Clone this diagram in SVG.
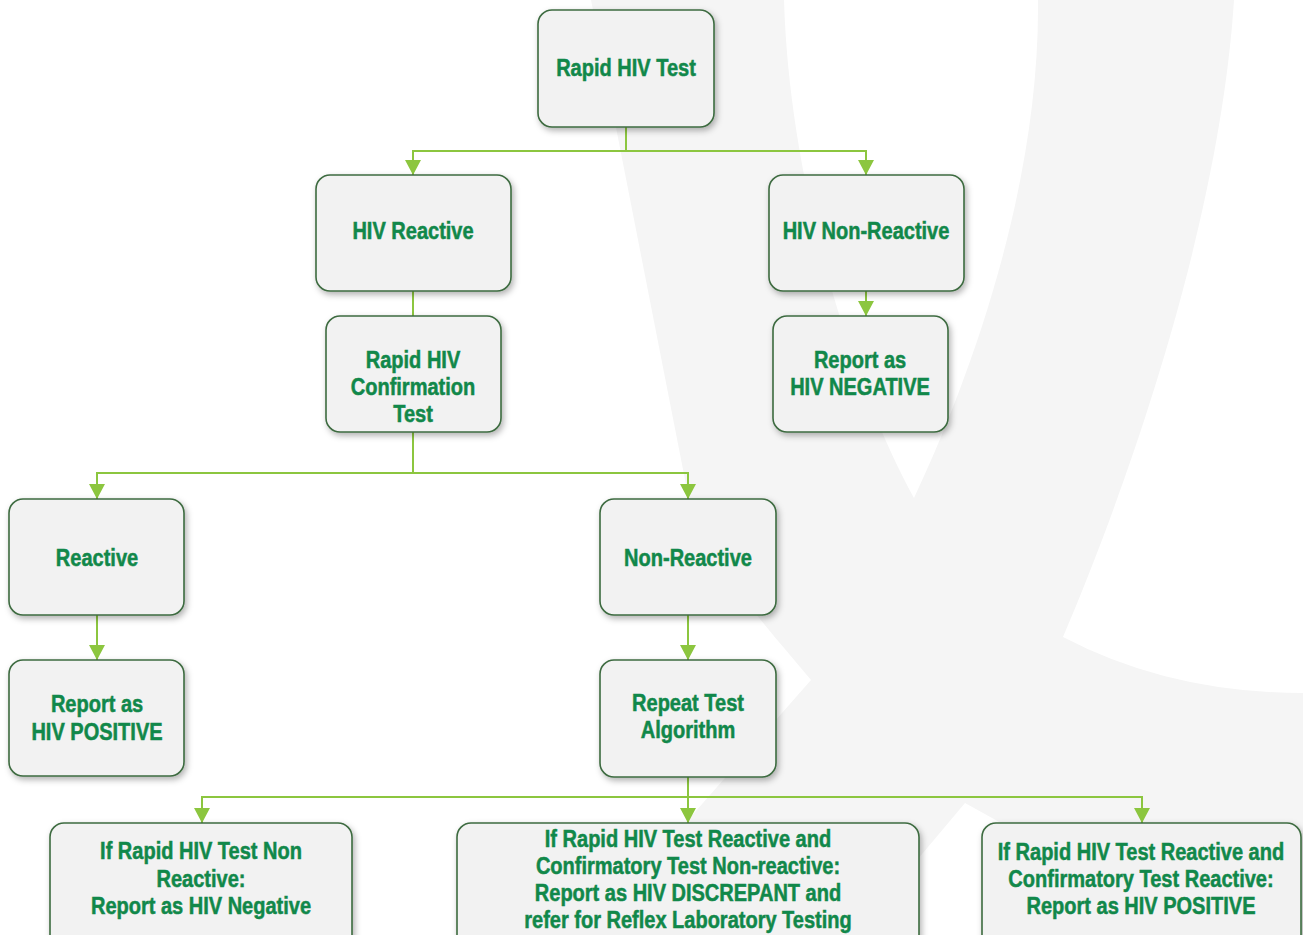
<svg xmlns="http://www.w3.org/2000/svg" width="1303" height="935" viewBox="0 0 1303 935">
<style>
.bg{fill:#f5f5f5;stroke:none}
.node rect{fill:#f2f2f2;stroke:#3d6b40;stroke-width:1.6;filter:url(#sh)}
.node text{font-family:"Liberation Sans",Arial,sans-serif;font-weight:bold;font-size:23px;fill:#11884a;stroke:#11884a;stroke-width:0.5;text-anchor:middle}
.conn path{fill:none;stroke:#8cc63f;stroke-width:2}
</style>
<defs>
<filter id="sh" x="-15%" y="-15%" width="135%" height="135%">
<feDropShadow dx="2" dy="3" stdDeviation="3" flood-color="#000" flood-opacity="0.3"/>
</filter>
<marker id="ah" viewBox="0 0 15 16" refX="15" refY="8" markerWidth="15" markerHeight="16" markerUnits="userSpaceOnUse" orient="auto">
<path d="M0,0 L15,8 L0,16 Z" fill="#8cc63f"/>
</marker>
</defs>
<rect width="1303" height="935" fill="#ffffff"/>
<path class="bg" d="M591,0 L784,0 C790,200 860,400 914,498 C960,400 1040,200 1038,0 L1234,0 C1220,220 1130,480 1063,637 Q1170,693 1303,693 L1303,935 L1200,935 Q1050,850 965,803 L854,935 L587,935 L811,680 C770,630 712,570 689,500 Z"/>
<g class="conn" id="connectors">
<path d="M626,127 V151 H413 V175" marker-end="url(#ah)"/>
<path d="M626,127 V151 H866 V175" marker-end="url(#ah)"/>
<path d="M413,291 V316"/>
<path d="M866,291 V316" marker-end="url(#ah)"/>
<path d="M413,432 V473 H97 V499" marker-end="url(#ah)"/>
<path d="M413,432 V473 H688 V499" marker-end="url(#ah)"/>
<path d="M97,615 V660" marker-end="url(#ah)"/>
<path d="M688,615 V660" marker-end="url(#ah)"/>
<path d="M688,777 V797 H202 V823" marker-end="url(#ah)"/>
<path d="M688,777 V823" marker-end="url(#ah)"/>
<path d="M688,777 V797 H1142 V823" marker-end="url(#ah)"/>
</g>
<g class="node" id="rapid-hiv-test">
<rect x="538" y="10" width="176" height="117" rx="14"/>
<text transform="translate(626 76) scale(0.87 1)">Rapid HIV Test</text>
</g>
<g class="node" id="hiv-reactive">
<rect x="316" y="175" width="195" height="116" rx="14"/>
<text transform="translate(413 239) scale(0.87 1)">HIV Reactive</text>
</g>
<g class="node" id="hiv-non-reactive">
<rect x="769" y="175" width="195" height="116" rx="14"/>
<text transform="translate(866 239) scale(0.87 1)">HIV Non-Reactive</text>
</g>
<g class="node" id="rapid-confirmation">
<rect x="326" y="316" width="175" height="116" rx="14"/>
<text transform="translate(413 368) scale(0.87 1)">Rapid HIV</text>
<text transform="translate(413 395) scale(0.87 1)">Confirmation</text>
<text transform="translate(413 422) scale(0.87 1)">Test</text>
</g>
<g class="node" id="report-negative">
<rect x="773" y="316" width="175" height="116" rx="14"/>
<text transform="translate(860 368) scale(0.87 1)">Report as</text>
<text transform="translate(860 395) scale(0.87 1)">HIV NEGATIVE</text>
</g>
<g class="node" id="reactive">
<rect x="9" y="499" width="175" height="116" rx="14"/>
<text transform="translate(97 566) scale(0.87 1)">Reactive</text>
</g>
<g class="node" id="non-reactive">
<rect x="600" y="499" width="176" height="116" rx="14"/>
<text transform="translate(688 566) scale(0.87 1)">Non-Reactive</text>
</g>
<g class="node" id="report-positive">
<rect x="9" y="660" width="175" height="116" rx="14"/>
<text transform="translate(97 712) scale(0.87 1)">Report as</text>
<text transform="translate(97 740) scale(0.87 1)">HIV POSITIVE</text>
</g>
<g class="node" id="repeat-test">
<rect x="600" y="660" width="176" height="117" rx="14"/>
<text transform="translate(688 711) scale(0.87 1)">Repeat Test</text>
<text transform="translate(688 738) scale(0.87 1)">Algorithm</text>
</g>
<g class="node" id="result-negative">
<rect x="50" y="823" width="302" height="130" rx="14"/>
<text transform="translate(201 859) scale(0.87 1)">If Rapid HIV Test Non</text>
<text transform="translate(201 887) scale(0.87 1)">Reactive:</text>
<text transform="translate(201 914) scale(0.87 1)">Report as HIV Negative</text>
</g>
<g class="node" id="result-discrepant">
<rect x="457" y="823" width="462" height="130" rx="14"/>
<text transform="translate(688 847) scale(0.87 1)">If Rapid HIV Test Reactive and</text>
<text transform="translate(688 874) scale(0.87 1)">Confirmatory Test Non-reactive:</text>
<text transform="translate(688 901) scale(0.87 1)">Report as HIV DISCREPANT and</text>
<text transform="translate(688 928) scale(0.87 1)">refer for Reflex Laboratory Testing</text>
</g>
<g class="node" id="result-positive">
<rect x="982" y="823" width="319" height="130" rx="14"/>
<text transform="translate(1141 860) scale(0.87 1)">If Rapid HIV Test Reactive and</text>
<text transform="translate(1141 887) scale(0.87 1)">Confirmatory Test Reactive:</text>
<text transform="translate(1141 914) scale(0.87 1)">Report as HIV POSITIVE</text>
</g>
</svg>
